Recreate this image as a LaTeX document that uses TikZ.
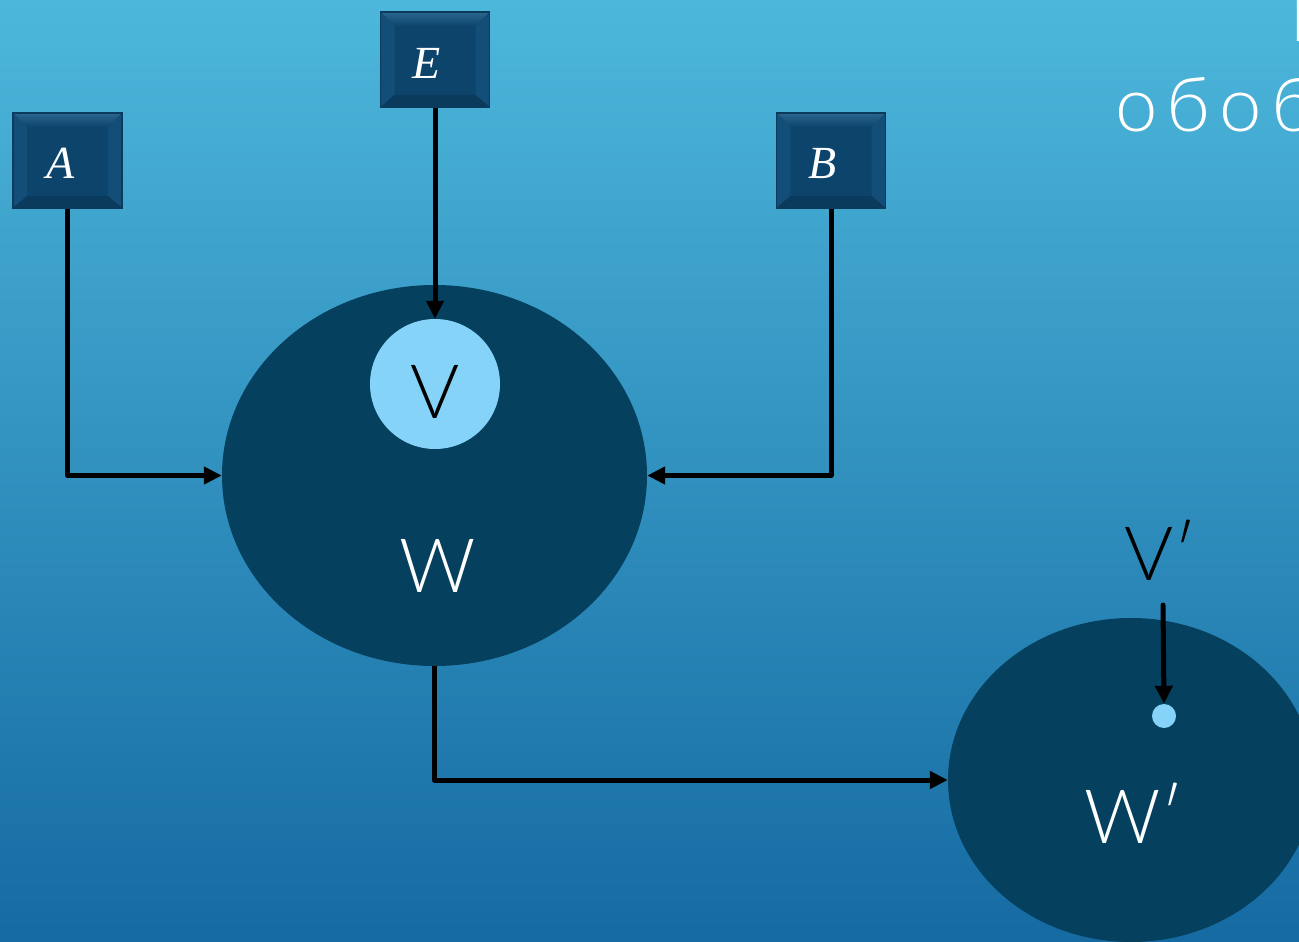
\documentclass[tikz,border=0pt]{standalone}
\usepackage{fontspec}
\newfontfamily\thinfont{Lato Light}
\newfontfamily\thinwide{Lato Light}[LetterSpace=12]
\newfontfamily\serifit{Liberation Serif}
\usetikzlibrary{arrows.meta,shapes.geometric}
\definecolor{bgtop}{HTML}{4DB7DB}
\definecolor{bgbot}{HTML}{156AA2}
\definecolor{navy}{HTML}{05405F}
\definecolor{vlight}{HTML}{85D3F8}
\definecolor{boxc}{HTML}{0D446C}
\definecolor{bevtop}{HTML}{2A6690}
\definecolor{bevside}{HTML}{124E77}
\definecolor{bevbot}{HTML}{0A3A5C}
\begin{document}
\begin{tikzpicture}[x=1pt,y=-1pt,
  bevelbox/.style={rectangle, minimum width=109pt, minimum height=95pt, inner sep=0pt,
    fill=boxc, draw=bevbot, line width=1.2pt,
    path picture={
      \coordinate (nw) at (path picture bounding box.north west);
      \coordinate (ne) at (path picture bounding box.north east);
      \coordinate (sw) at (path picture bounding box.south west);
      \coordinate (se) at (path picture bounding box.south east);
      \shade[top color=bevtop, bottom color=boxc] (nw) -- (ne) -- ([shift={(-14pt,-14pt)}]ne) -- ([shift={(14pt,-14pt)}]nw) -- cycle;
      \fill[bevside] (nw) -- ([shift={(14pt,-14pt)}]nw) -- ([shift={(14pt,12pt)}]sw) -- (sw) -- cycle;
      \fill[bevside] (ne) -- ([shift={(-14pt,-14pt)}]ne) -- ([shift={(-14pt,12pt)}]se) -- (se) -- cycle;
      \fill[bevbot] (sw) -- ([shift={(14pt,12pt)}]sw) -- ([shift={(-14pt,12pt)}]se) -- (se) -- cycle;
    }},
  boxletter/.style={text=white, inner sep=0pt, anchor=base, font=\serifit\itshape\fontsize{46pt}{46pt}\selectfont},
  bigtext/.style={inner sep=0pt, font=\thinfont\fontsize{75pt}{75pt}\selectfont},
  conn/.style={line width=5pt, line join=round, -{Triangle[length=18pt,width=17pt]}},
]
\useasboundingbox (0,0) rectangle (1299,942);
\clip (0,0) rectangle (1299,942);
\shade[top color=bgtop, bottom color=bgbot] (0,0) rectangle (1299,942);

% top-right cut text
\node[bigtext, text=white, anchor=base west] (title1) at (1289,42) {П};
\node[inner sep=0pt, text=white, anchor=base west, font=\thinwide\fontsize{76pt}{76pt}\selectfont] (title2) at (1115,131) {обоб};

% boxes
\node[bevelbox] (A) at (67.5,160.5) {};
\node[bevelbox] (E) at (435,59.5) {};
\node[bevelbox] (B) at (831,160.5) {};
\node[boxletter] (Al) at (61,178) {A};
\node[boxletter] (El) at (427,78) {E};
\node[boxletter] (Bl) at (823,178) {B};

% big ellipse W
\node[ellipse, fill=navy, minimum width=425pt, minimum height=381pt, inner sep=0pt] (W) at (434.5,475.5) {};
\node[circle, fill=vlight, minimum size=130pt, inner sep=0pt] (V) at (435,384) {};
\node[bigtext, anchor=base, text=black] (Vl) at (435,418) {V};
\node[bigtext, anchor=base, text=white] (Wl) at (438,592) {W};

% ellipse W'
\node[ellipse, fill=navy, minimum width=366pt, minimum height=324pt, inner sep=0pt] (Wp) at (1131,780) {};
\node[circle, fill=vlight, minimum size=24pt, inner sep=0pt] (dot) at (1164,716) {};
\node[bigtext, anchor=base west, text=black] (Vpl) at (1124,580) {V′};
\node[bigtext, anchor=base west, text=white] (Wpl) at (1084,843) {W′};
\coordinate (vpend) at (1163,605);

% connectors
\draw[conn] (A.south) |- (W.west);
\draw[conn] (E.south) -- (V.north);
\draw[conn] (B.south) |- (W.east);
\draw[conn] (W.south) |- (Wp.west);
\draw[conn, line cap=round] (vpend) -- (dot.north);
\end{tikzpicture}
\end{document}
